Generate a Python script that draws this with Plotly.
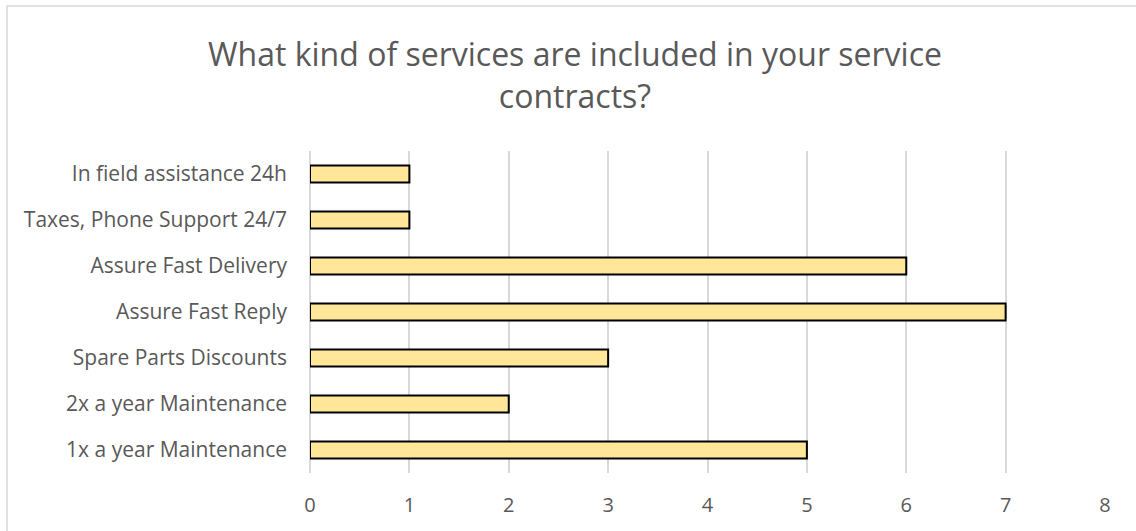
import plotly.graph_objects as go

categories = [
    "1x a year Maintenance",
    "2x a year Maintenance",
    "Spare Parts Discounts",
    "Assure Fast Reply",
    "Assure Fast Delivery",
    "Taxes, Phone Support 24/7",
    "In field assistance 24h",
]
values = [5, 2, 3, 7, 6, 1, 1]
x_ticks = [0, 1, 2, 3, 4, 5, 6, 7, 8]

W, H = 1136, 531
L, R, T, B = 310, 31, 151, 58
pw, ph = W - L - R, H - T - B

fig = go.Figure(go.Bar(
    x=values, y=categories, orientation="h",
    marker=dict(color="#FFE699", line=dict(color="#000000", width=2)),
))

font_family = "Open Sans, Liberation Sans, sans-serif"
fig.update_layout(
    width=W, height=H,
    margin=dict(l=L, r=R, t=T, b=B),
    paper_bgcolor="white", plot_bgcolor="white",
    bargap=0.63,
    showlegend=False,
    font=dict(family=font_family, color="#595959", size=20),
    title=dict(
        text="What kind of services are included in your service<br>contracts?",
        x=575 / W, xanchor="center", y=1 - 66 / H, yanchor="middle",
        font=dict(size=32, color="#595959", family=font_family),
    ),
    xaxis=dict(
        range=[0, 8], tickvals=x_ticks, showgrid=True, gridcolor="#d9d9d9", gridwidth=1.5,
        zeroline=True, zerolinecolor="#d9d9d9", zerolinewidth=1.5, showline=False,
        ticklabelstandoff=18, tickfont=dict(size=20, color="#595959"),
    ),
    yaxis=dict(
        showgrid=False, zeroline=False, showline=False,
        ticklabelstandoff=22, tickfont=dict(size=21, color="#595959"),
    ),
    shapes=[dict(
        type="rect", xref="paper", yref="paper",
        x0=(7 - L) / pw, x1=(W + 5 - L) / pw,
        y0=-(B + 5) / ph, y1=1 + (T - 6) / ph,
        line=dict(color="#d9d9d9", width=1.5), fillcolor="rgba(0,0,0,0)", layer="below",
    )],
)

fig.write_html("out.html")
